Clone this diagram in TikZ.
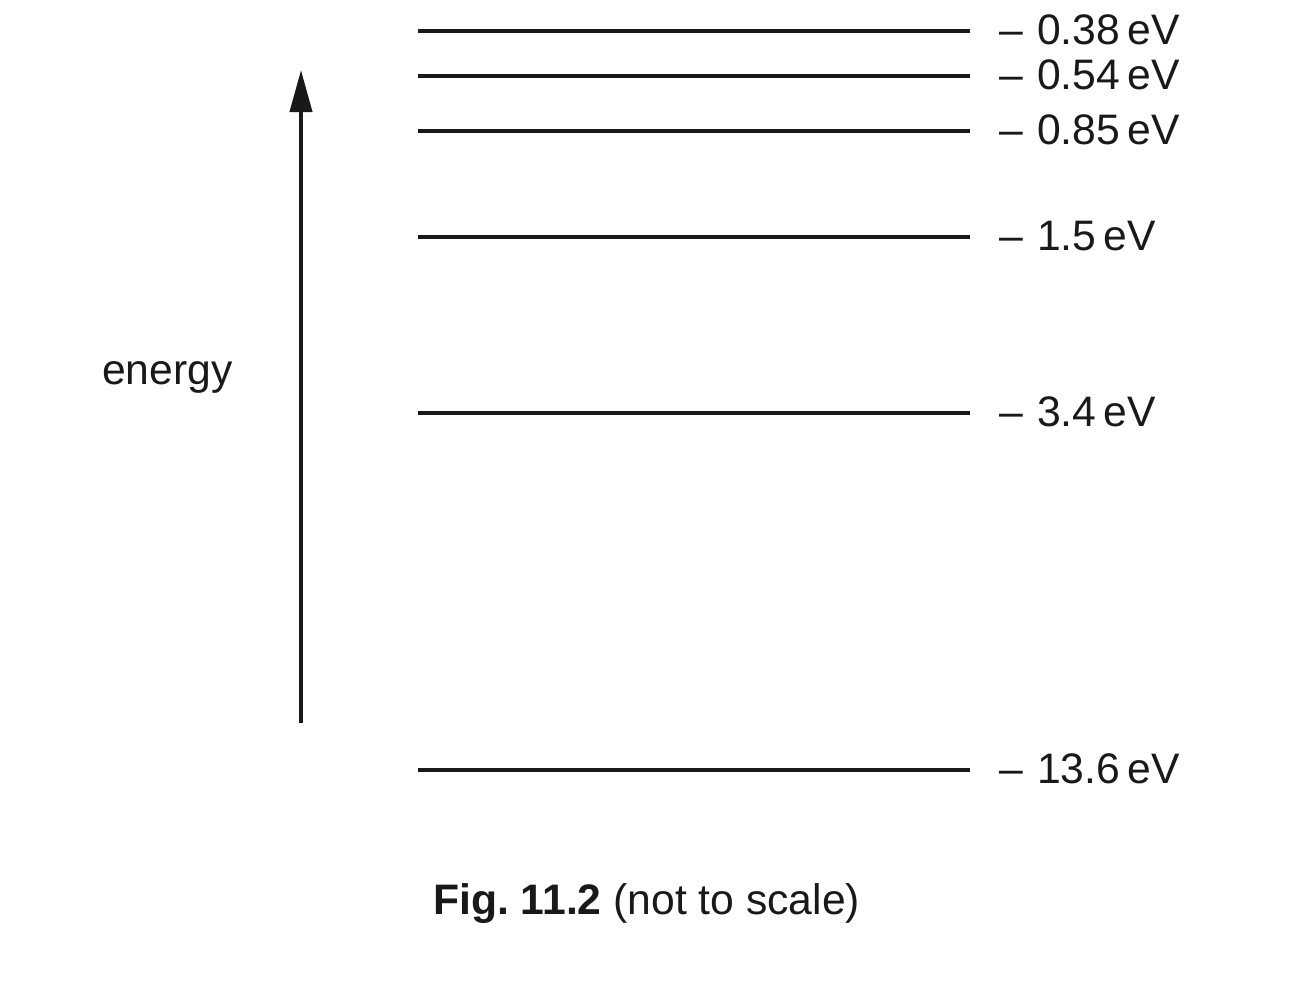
\documentclass[tikz,border=0pt]{standalone}
\usepackage{fontspec}
\setmainfont{Liberation Sans}
\usetikzlibrary{arrows.meta}
\begin{document}
\begin{tikzpicture}[x=0.75pt,y=-0.75pt,
  level/.style={line width=2.4pt,black!90},
  txt/.style={inner sep=0pt,font=\fontsize{32}{37}\selectfont,text=black!90},
  elabel/.style={txt,anchor=base west},
  axis/.style={line width=3pt,black!90,-{Triangle[length=31.5pt,width=16.5pt]}}]
\useasboundingbox (0,0) rectangle (1314,982);
\foreach \n/\y/\t in {a/31/0.38, b/76/0.54, c/131/0.85, d/237/1.5, e/413/3.4, f/770/13.6}{
  \coordinate (\n L) at (418,\y);
  \coordinate (\n R) at (970,\y);
  \draw[level] (\n L) -- (\n R);
  \node[elabel] (\n lab) at (999,\y+13) {–\,\,\t\,eV};
}
\coordinate (abot) at (301,723);
\coordinate (atop) at (301,70);
\draw[axis] (abot) -- (atop);
\node[txt,anchor=base west] (en) at (102,384) {energy};
\node[txt,anchor=base west] (cap) at (433,914) {\textbf{Fig.\ 11.2} (not to scale)};
\end{tikzpicture}
\end{document}
